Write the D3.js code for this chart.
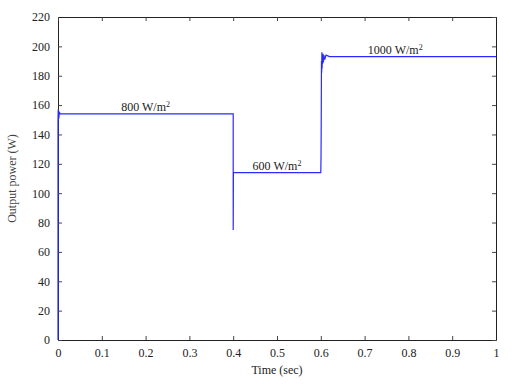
<!DOCTYPE html>
<html>
<head>
<meta charset="utf-8">
<script src="https://cdn.jsdelivr.net/npm/d3@7"></script>
<style>
  body { margin: 0; background: #fff; }
  svg text { font-family: "Liberation Serif", serif !important; }
</style>
</head>
<body>
<svg width="512" height="384"></svg>
<script>
// output power of the PV system vs time, three irradiance steps
const timeSec = [0, 0, 0.0005, 0.001, 0.0015, 0.002, 0.003, 0.005, 0.4, 0.4, 0.4005, 0.401,
  0.599, 0.6, 0.6005, 0.601, 0.6015, 0.602, 0.6025, 0.603, 0.6035, 0.604, 0.605, 0.606, 0.607, 0.609, 0.612, 0.62, 1];
const powerW = [0, 150, 157, 149, 156, 151, 155, 154, 154, 75, 114, 114,
  114, 114, 125, 150, 190, 182, 196, 185, 194, 188, 195, 189, 194, 191, 194, 193, 193];

const xTicks = [0, 0.1, 0.2, 0.3, 0.4, 0.5, 0.6, 0.7, 0.8, 0.9, 1];
const yTicks = [0, 20, 40, 60, 80, 100, 120, 140, 160, 180, 200, 220];

const labelT = [0.2, 0.5, 0.77];
const labelP = [154, 114, 193];
const labelText = ["800 W/m", "600 W/m", "1000 W/m"];

const svg = d3.select('svg');
const margin = {left: 58, right: 16, top: 17, bottom: 44};
const width = +svg.attr("width");
const height = +svg.attr("height");
const w = width - margin.left - margin.right;
const h = height - margin.top - margin.bottom;

const x = d3.scaleLinear().domain([0, 1]).range([0, w]);
const y = d3.scaleLinear().domain([0, 220]).range([h, 0]);

const g = svg.append("g").attr("transform", `translate(${margin.left},${margin.top})`);

// axes, ticks pointing inward on all four sides
const styleAxis = sel => {
  sel.select(".domain").attr("stroke", "#222");
  sel.selectAll(".tick line").attr("stroke", "#444");
  sel.selectAll(".tick text").attr("fill", "#222").attr("font-size", 12);
};
g.append("g").attr("transform", `translate(0,${h})`)
  .call(d3.axisBottom(x).tickValues(xTicks).tickSize(-4).tickPadding(8).tickSizeOuter(0)
    .tickFormat(d3.format("~g")))
  .call(styleAxis);
g.append("g")
  .call(d3.axisLeft(y).tickValues(yTicks).tickSize(-4).tickPadding(8).tickSizeOuter(0))
  .call(styleAxis);
g.append("g")
  .call(d3.axisTop(x).tickValues(xTicks).tickSize(-4).tickSizeOuter(0).tickFormat(""))
  .call(styleAxis);
g.append("g").attr("transform", `translate(${w},0)`)
  .call(d3.axisRight(y).tickValues(yTicks).tickSize(-4).tickSizeOuter(0).tickFormat(""))
  .call(styleAxis);

// the power curve
const pts = timeSec.map((t, i) => [t, powerW[i]]);
g.append("path")
  .datum(pts)
  .attr("fill", "none")
  .attr("stroke", "#2a2aff")
  .attr("stroke-width", 1.2)
  .attr("d", d3.line().x(d => x(d[0])).y(d => y(d[1])));

// irradiance labels
labelText.forEach((s, i) => {
  const t = g.append("text")
    .attr("x", x(labelT[i]))
    .attr("y", y(labelP[i]) - 3)
    .attr("text-anchor", "middle")
    .attr("font-size", 12)
    .attr("fill", "#222")
    .text(s);
  t.append("tspan").attr("dy", -4).attr("font-size", 8).text("2");
});

svg.append("text")
  .attr("x", margin.left + w / 2).attr("y", height - 10)
  .attr("text-anchor", "middle").attr("font-size", 12).attr("fill", "#222")
  .text("Time (sec)");

svg.append("text")
  .attr("transform", `translate(16,${margin.top + h / 2}) rotate(-90)`)
  .attr("text-anchor", "middle").attr("font-size", 12).attr("fill", "#444")
  .text("Output power (W)");
</script>
</body>
</html>
